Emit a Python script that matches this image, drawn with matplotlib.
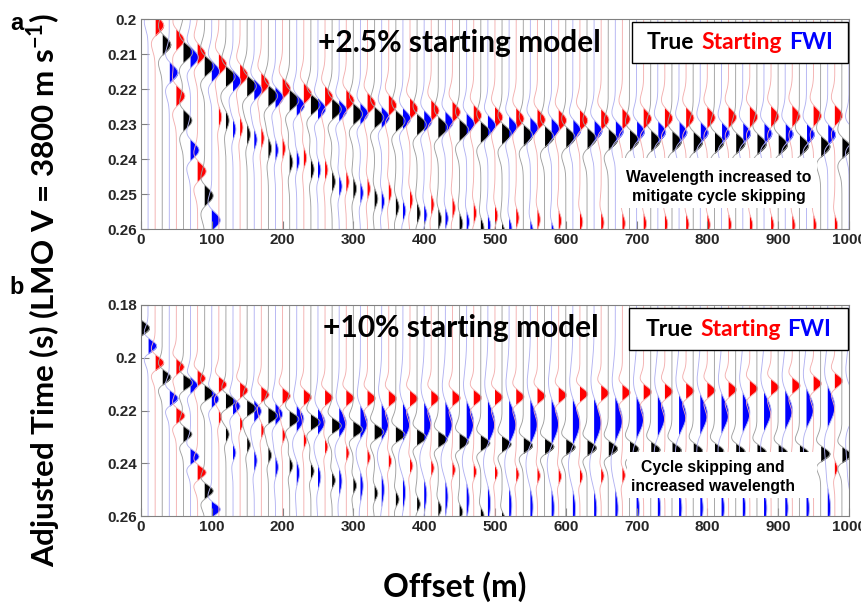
import numpy as np
import matplotlib
matplotlib.use("Agg")
import matplotlib.pyplot as plt
from matplotlib.patches import Rectangle
from matplotlib.offsetbox import TextArea, HPacker, AnchoredOffsetbox

nan = np.nan

# trace offsets (m): true, starting and FWI traces are interleaved 10 m apart
true_offsets = list(range(0, 991, 30))
start_offsets = list(range(20, 981, 30))
fwi_offsets = list(range(10, 1001, 30))

# picked arrival times (s) of each event on every trace
true_steep = [0.1887, 0.2073, 0.2290, 0.2505] + [nan] * 30
true_main = [nan, nan, 0.2095, 0.2135, 0.2165, 0.2192, 0.2220, 0.2233, 0.2245, 0.2258,
             0.2272, 0.2282, 0.2292, 0.2302, 0.2310, 0.2318, 0.2324, 0.2328, 0.2332, 0.2336,
             0.2338, 0.2341, 0.2344, 0.2346, 0.2348, 0.2350, 0.2352, 0.2353, 0.2355, 0.2357,
             0.2359, 0.2361, 0.2364, 0.2368]
true_lower = [nan, nan, nan, nan, 0.2290, 0.2330, 0.2370, 0.2410, 0.2430, 0.2465,
              0.2485, 0.2514, 0.2537, 0.2555, 0.2572, 0.2585, 0.2598, 0.2612] + [nan] * 16

start_steep = [0.2018, 0.2220, 0.2435] + [nan] * 30
start_main_a = [nan, 0.2060, 0.2100, 0.2130, 0.2160, 0.2185, 0.2199, 0.2214, 0.2223, 0.2233,
                0.2242, 0.2247, 0.2257, 0.2262, 0.2266, 0.2276, 0.2281, 0.2285, 0.2288, 0.2290,
                0.2290, 0.2288, 0.2286, 0.2285, 0.2284, 0.2283, 0.2282, 0.2281, 0.2280, 0.2279,
                0.2278, 0.2277, 0.2276]
start_lower_a = [nan, nan, nan, 0.2280, 0.2310, 0.2340, 0.2370, 0.2397, 0.2431, 0.2465,
                 0.2485, 0.2496, 0.2517, 0.2530, 0.2540, 0.2555, 0.2562, 0.2568, 0.2573, 0.2577,
                 0.2580, 0.2582, 0.2584, 0.2585, 0.2586, 0.2587, 0.2588, 0.2588, 0.2589, 0.2589,
                 0.2590, 0.2590, 0.2590]
start_main_b = [nan, 0.2035, 0.2078, 0.2102, 0.2124, 0.2140, 0.2145, 0.2150, 0.2152, 0.2153,
                0.2154, 0.2155, 0.2155, 0.2154, 0.2153, 0.2152, 0.2150, 0.2148, 0.2145, 0.2142,
                0.2138, 0.2134, 0.2132, 0.2130, 0.2128, 0.2126, 0.2124, 0.2121, 0.2117, 0.2112,
                0.2106, 0.2098, 0.2088]
start_lower_b = [nan, nan, nan, 0.2225, 0.2250, 0.2275, 0.2295, 0.2314, 0.2338, 0.2362,
                 0.2377, 0.2392, 0.2410, 0.2418, 0.2425, 0.2432, 0.2437, 0.2443, 0.2447, 0.2450,
                 0.2450, 0.2448, 0.2446, 0.2444, 0.2442, 0.2440, 0.2438, 0.2436, 0.2434, 0.2431,
                 0.2428, 0.2424, 0.2420]

fwi_steep = [0.1955, 0.2153, 0.2375, 0.2575] + [nan] * 30
fwi_main_a = [nan, nan, 0.2110, 0.2150, 0.2178, 0.2203, 0.2225, 0.2247, 0.2257, 0.2262,
              0.2271, 0.2281, 0.2285, 0.2292, 0.2295, 0.2300, 0.2305, 0.2309, 0.2312, 0.2314,
              0.2317, 0.2319, 0.2320, 0.2321, 0.2322, 0.2323, 0.2324, 0.2325, 0.2326, 0.2327,
              0.2328, 0.2329, 0.2330, 0.2331]
fwi_lower_a = [nan, nan, nan, nan, 0.2315, 0.2345, 0.2375, 0.2405, 0.2431, 0.2478,
               0.2497, 0.2521, 0.2548, 0.2560, 0.2570, 0.2580, 0.2590, 0.2598, 0.2605, 0.2610] + [nan] * 14
fwi_main_b = [nan, nan, 0.2105, 0.2157, 0.2184, 0.2203, 0.2214, 0.2232, 0.2243, 0.2247,
              0.2247, 0.2247, 0.2247, 0.2247, 0.2247, 0.2247, 0.2247, 0.2247, 0.2247, 0.2247,
              0.2247, 0.2245, 0.2235, 0.2228, 0.2222, 0.2218, 0.2215, 0.2212, 0.2208, 0.2204,
              0.2198, 0.2192, 0.2186, 0.2180]
fwi_lower_b = [nan, nan, nan, nan, 0.2360, 0.2390, 0.2415, 0.2436, 0.2451, 0.2466,
               0.2482, 0.2495, 0.2505, 0.2513, 0.2522, 0.2532, 0.2547, 0.2555, 0.2560, 0.2565,
               0.2568, 0.2570, 0.2570, 0.2570, 0.2570, 0.2570, 0.2570, 0.2570, 0.2570, 0.2570,
               0.2570, 0.2570, 0.2570, 0.2570]
# length of the positive lobe (s) of the FWI wavelet in the +10% case
fwi_len_b = [0.0064, 0.0064, 0.0064, 0.0068, 0.0068, 0.0084, 0.0084, 0.0103, 0.0103, 0.0118,
             0.0133, 0.0148, 0.0155, 0.0160, 0.0165, 0.0170, 0.0175, 0.0178, 0.0181, 0.0183,
             0.0185, 0.0186, 0.0175, 0.0165, 0.0160, 0.0158, 0.0156, 0.0155, 0.0154, 0.0153,
             0.0153, 0.0153, 0.0160, 0.0160]

LOBE = 0.0062  # default positive lobe length (s)
t = np.arange(0.17, 0.272, 0.0001)


def ricker(t0, length):
    f = 0.45 / length
    a = (np.pi * f * (t - t0)) ** 2
    return (1 - 2 * a) * np.exp(-a)


def build(offsets, events):
    # events: list of (times, amplitude in m, lobe lengths or None)
    out = []
    for i, x0 in enumerate(offsets):
        s = np.zeros_like(t)
        for times, amp, lens in events:
            if np.isnan(times[i]):
                continue
            ln = LOBE if lens is None else lens[i]
            s += amp * ricker(times[i], ln)
        out.append((x0, s))
    return out


lines = {'true': '#a0a0a0', 'start': '#f3b0b0', 'fwi': '#b3b3f2'}
fills = {'true': '#000000', 'start': '#ff0000', 'fwi': '#0000ff'}

W, H = 862, 606
fig = plt.figure(figsize=(W / 100, H / 100), dpi=100)


def px_axes(l, t_, r, b):
    return fig.add_axes([l / W, 1 - b / H, (r - l) / W, (b - t_) / H])


def draw_panel(ax, traces, ylim, yticks):
    allt = []
    for key, tr in traces.items():
        for x0, s in tr:
            allt.append((x0, key, s))
    allt.sort(key=lambda z: z[0])
    for x0, key, s in allt:
        ax.plot(x0 + s, t, color=lines[key], lw=0.65)
        ax.fill_betweenx(t, x0, x0 + s, where=s > 0, interpolate=True,
                         color=fills[key], lw=0)
    ax.set_xlim(0, 1000)
    ax.set_ylim(ylim[1], ylim[0])
    ax.set_xticks(range(0, 1001, 100))
    ax.set_yticks(yticks)
    ax.set_yticklabels([('%g' % v) for v in yticks])
    ax.tick_params(direction='in', length=5.5, width=0.8, color='#808080',
                   labelsize=11, labelcolor='#262626', pad=3)
    for lab in ax.get_xticklabels() + ax.get_yticklabels():
        lab.set_fontweight('bold')
        lab.set_family('Liberation Sans')
    for sp in ax.spines.values():
        sp.set_color('#808080')
        sp.set_linewidth(0.8)


ax_a = px_axes(141, 19, 849, 229)
draw_panel(ax_a, {
    'true': build(true_offsets, [(true_steep, 12, None), (true_main, 13, None), (true_lower, 4.5, None)]),
    'start': build(start_offsets, [(start_steep, 12, None), (start_main_a, 11, None), (start_lower_a, 4, None)]),
    'fwi': build(fwi_offsets, [(fwi_steep, 12, None), (fwi_main_a, 11, None), (fwi_lower_a, 4, None)]),
}, (0.2, 0.26), [0.2, 0.21, 0.22, 0.23, 0.24, 0.25, 0.26])

ax_b = px_axes(141, 305, 849, 516)
draw_panel(ax_b, {
    'true': build(true_offsets, [(true_steep, 12, None), (true_main, 13, None), (true_lower, 4.5, None)]),
    'start': build(start_offsets, [(start_steep, 12, None), (start_main_b, 11, None), (start_lower_b, 4, None)]),
    'fwi': build(fwi_offsets, [(fwi_steep, 12, None), (fwi_main_b, 10, fwi_len_b), (fwi_lower_b, 4, fwi_len_b)]),
}, (0.18, 0.26), [0.18, 0.2, 0.22, 0.24, 0.26])

BIG = 'Lato'


def white_box(l, t_, r, b, edge=False):
    fig.add_artist(Rectangle((l / W, 1 - b / H), (r - l) / W, (b - t_) / H,
                             transform=fig.transFigure, facecolor='white',
                             edgecolor='black' if edge else 'none', lw=1, zorder=5))


def legend_box(l, t_, r, b):
    white_box(l, t_, r, b, edge=True)
    parts = [TextArea(s, textprops=dict(color=c, fontsize=16.5, fontweight='bold', family=BIG))
             for s, c in [('True', 'black'), ('Starting', '#ff0000'), ('FWI', '#0000ff')]]
    box = AnchoredOffsetbox(loc='center', child=HPacker(children=parts, sep=5, pad=0),
                            frameon=False, pad=0, borderpad=0,
                            bbox_to_anchor=((l + r) / 2 / W, 1 - (t_ + b) / 2 / H),
                            bbox_transform=fig.transFigure)
    box.set_zorder(6)
    fig.add_artist(box)


legend_box(632, 22, 848, 63)
legend_box(629, 308, 848, 350)

white_box(620, 158, 817, 208)
fig.text(719 / W, 1 - 187 / H, 'Wavelength increased to\nmitigate cycle skipping',
         ha='center', va='center', fontsize=11.3, fontweight='bold', family='Liberation Sans',
         linespacing=1.35, zorder=6)
white_box(627, 452, 817, 498)
fig.text(713 / W, 1 - 477 / H, 'Cycle skipping and\nincreased wavelength',
         ha='center', va='center', fontsize=11.3, fontweight='bold', family='Liberation Sans',
         linespacing=1.35, zorder=6)

fig.text(459 / W, 1 - 43 / H, '+2.5% starting model', ha='center', va='center',
         fontsize=21.5, fontweight='bold', family=BIG, zorder=6)
fig.text(461 / W, 1 - 328 / H, '+10% starting model', ha='center', va='center',
         fontsize=21.5, fontweight='bold', family=BIG, zorder=6)

fig.text(17 / W, 1 - 23 / H, 'a', ha='center', va='center', fontsize=17,
         fontweight='bold', family='Liberation Sans')
fig.text(17 / W, 1 - 288 / H, 'b', ha='center', va='center', fontsize=17,
         fontweight='bold', family='Liberation Sans')

plt.rcParams['mathtext.fontset'] = 'custom'
plt.rcParams['mathtext.rm'] = 'Lato:bold'
plt.rcParams['mathtext.bf'] = 'Lato:bold'
plt.rcParams['mathtext.default'] = 'bf'
fig.text(44 / W, 1 - 290 / H, 'Adjusted Time (s) (LMO V = 3800 m s$^{-1}$)',
         rotation=90, ha='center', va='center', fontsize=22.5, fontweight='bold', family=BIG)
fig.text(455 / W, 1 - 587 / H, 'Offset (m)', ha='center', va='center',
         fontsize=23, fontweight='bold', family=BIG)

fig.savefig('out.png', dpi=100)
